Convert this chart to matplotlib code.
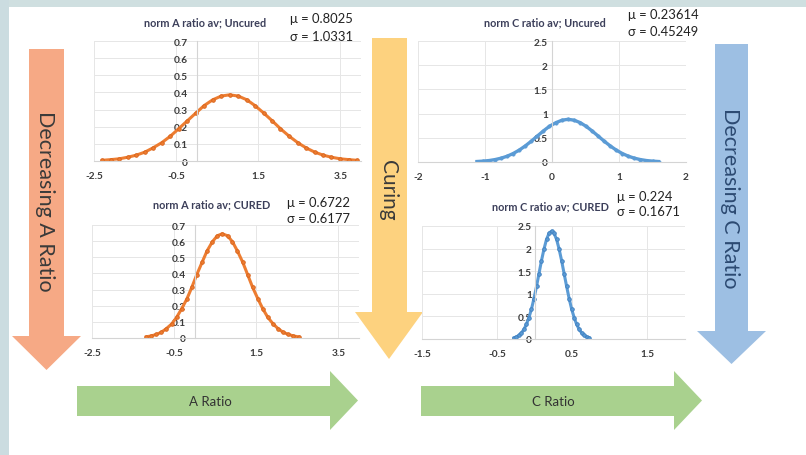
import matplotlib
matplotlib.use("Agg")
import matplotlib.pyplot as plt
from matplotlib.patches import Polygon, Rectangle

plt.rcParams['font.family'] = ['Lato', 'DejaVu Sans']
plt.rcParams['axes.unicode_minus'] = False

# --- data ---
# A ratio, uncured (mu = 0.8025, sigma = 1.0331)
a_unc_x = [-2.30, -2.09, -1.88, -1.68, -1.47, -1.26, -1.06, -0.85, -0.64, -0.44, -0.23,
           -0.02, 0.18, 0.39, 0.60, 0.80, 1.01, 1.22, 1.42, 1.63, 1.84, 2.04, 2.25,
           2.46, 2.66, 2.87, 3.08, 3.28, 3.49, 3.70, 3.90]
a_unc_y = [0.004, 0.008, 0.013, 0.022, 0.034, 0.052, 0.077, 0.107, 0.145, 0.188, 0.234,
           0.280, 0.323, 0.357, 0.379, 0.386, 0.379, 0.357, 0.323, 0.280, 0.234, 0.188,
           0.145, 0.107, 0.077, 0.052, 0.034, 0.022, 0.013, 0.008, 0.004]

# A ratio, cured (mu = 0.6722, sigma = 0.6177)
a_cur_x = [-1.18, -1.06, -0.93, -0.81, -0.69, -0.56, -0.44, -0.32, -0.19, -0.07, 0.05,
           0.18, 0.30, 0.43, 0.55, 0.67, 0.80, 0.92, 1.04, 1.17, 1.29, 1.41, 1.54,
           1.66, 1.78, 1.91, 2.03, 2.15, 2.28, 2.40, 2.53]
a_cur_y = [0.007, 0.013, 0.022, 0.036, 0.058, 0.087, 0.128, 0.180, 0.242, 0.314, 0.392,
           0.469, 0.539, 0.596, 0.633, 0.646, 0.633, 0.596, 0.539, 0.469, 0.392, 0.314,
           0.242, 0.180, 0.128, 0.087, 0.058, 0.036, 0.022, 0.013, 0.007]

# C ratio, uncured (mu = 0.23614, sigma = 0.45249)
c_unc_x = [-1.12, -1.03, -0.94, -0.85, -0.76, -0.67, -0.58, -0.49, -0.40, -0.31, -0.22,
           -0.13, -0.04, 0.06, 0.15, 0.24, 0.33, 0.42, 0.51, 0.60, 0.69, 0.78, 0.87,
           0.96, 1.05, 1.14, 1.23, 1.32, 1.41, 1.50, 1.59]
c_unc_y = [0.010, 0.018, 0.030, 0.050, 0.079, 0.119, 0.175, 0.245, 0.331, 0.429, 0.535,
           0.640, 0.736, 0.814, 0.864, 0.882, 0.864, 0.814, 0.736, 0.640, 0.535, 0.429,
           0.331, 0.245, 0.175, 0.119, 0.079, 0.050, 0.030, 0.018, 0.010]

# C ratio, cured (mu = 0.224, sigma = 0.1671)
c_cur_x = [-0.277, -0.244, -0.210, -0.177, -0.144, -0.110, -0.077, -0.043, -0.010, 0.024,
           0.057, 0.090, 0.124, 0.157, 0.191, 0.224, 0.257, 0.291, 0.324, 0.358, 0.391,
           0.425, 0.458, 0.491, 0.525, 0.558, 0.592, 0.625, 0.659, 0.692, 0.725]
c_cur_y = [0.026, 0.047, 0.081, 0.134, 0.212, 0.323, 0.473, 0.664, 0.896, 1.162, 1.448,
           1.734, 1.994, 2.204, 2.340, 2.387, 2.340, 2.204, 1.994, 1.734, 1.448, 1.162,
           0.896, 0.664, 0.473, 0.323, 0.212, 0.134, 0.081, 0.047, 0.026]

titles = ['norm A ratio av; Uncured', 'norm A ratio av; CURED',
          'norm C ratio av; Uncured', 'norm C ratio av; CURED']
mus = ['0.8025', '0.6722', '0.23614', '0.224']
sigmas = ['1.0331', '0.6177', '0.45249', '0.1671']

a_xticks = [-2.5, -0.5, 1.5, 3.5]
a_yticks = [0, 0.1, 0.2, 0.3, 0.4, 0.5, 0.6, 0.7]
a_ylabels = ['0', '0.1', '0.2', '0.3', '0.4', '0.5', '0.6', '0.7']
c_unc_xticks = [-2, -1, 0, 1, 2]
c_cur_xticks = [-1.5, -0.5, 0.5, 1.5]
c_yticks = [0, 0.5, 1, 1.5, 2, 2.5]
c_ylabels = ['0', '0.5', '1', '1.5', '2', '2.5']

W, H = 806, 456
fig = plt.figure(figsize=(W / 100, H / 100), dpi=100)
fig.patch.set_facecolor('white')

# background layer in pixel coordinates
bg = fig.add_axes([0, 0, 1, 1])
bg.set_xlim(0, W)
bg.set_ylim(H, 0)
bg.axis('off')
bg.add_patch(Rectangle((0, 0), W, 8, color='#cfdfe0', lw=0))
bg.add_patch(Rectangle((0, 0), 9, H, color='#cbdce0', lw=0))


def down_arrow(x0, x1, top, neck, h0, h1, tip, color):
    cx = (h0 + h1) / 2
    pts = [(x0, top), (x1, top), (x1, neck), (h1, neck), (cx, tip), (h0, neck), (x0, neck)]
    bg.add_patch(Polygon(pts, closed=True, color=color, lw=0))


def right_arrow(left, y0, y1, neck, h0, h1, tip, color):
    cy = (h0 + h1) / 2
    pts = [(left, y0), (neck, y0), (neck, h0), (tip, cy), (neck, h1), (neck, y1), (left, y1)]
    bg.add_patch(Polygon(pts, closed=True, color=color, lw=0))


down_arrow(29, 64, 50, 337, 12, 81, 371, '#f6a985')
down_arrow(372, 407, 39, 313, 355, 423, 360, '#fdd27f')
down_arrow(715, 748, 45, 332, 697, 766, 365, '#9dbfe3')
right_arrow(77, 387, 417, 330, 372, 431, 358, '#a9d18e')
right_arrow(421, 387, 417, 674, 372, 431, 702, '#a9d18e')

bg.text(45, 201, 'Decreasing A Ratio', rotation=-90, ha='center', va='center',
        fontsize=15.5, color='#3a3a3a')
bg.text(388, 190, 'Curing', rotation=-90, ha='center', va='center',
        fontsize=15, color='#3a3a3a')
bg.text(730, 198, 'Decreasing C Ratio', rotation=-90, ha='center', va='center',
        fontsize=15.5, color='#2c4a72')
bg.text(210, 402, 'A Ratio', ha='center', va='center', fontsize=9.5, color='#333333')
bg.text(553, 402, 'C Ratio', ha='center', va='center', fontsize=9.5, color='#333333')


def px_axes(l, t, r, b):
    return fig.add_axes([l / W, 1 - b / H, (r - l) / W, (b - t) / H])


def style(ax, xlim, ylim, xticks, yticks, ylabels, ypad):
    ax.set_facecolor('none')
    ax.set_xlim(*xlim)
    ax.set_ylim(*ylim)
    ax.set_xticks(xticks)
    ax.set_xticklabels([('%g' % t) for t in xticks])
    ax.set_yticks(yticks)
    ax.set_yticklabels(ylabels)
    ax.grid(True, color='#e6e6e6', lw=0.7)
    ax.set_axisbelow(True)
    for s in ['top', 'right']:
        ax.spines[s].set_visible(False)
    ax.spines['left'].set_position(('data', 0))
    ax.spines['left'].set_color('#d4d4d4')
    ax.spines['bottom'].set_color('#d4d4d4')
    ax.tick_params(axis='both', length=0, labelsize=7.3, labelcolor='#3c3c3c')
    ax.tick_params(axis='x', pad=7.5)
    ax.tick_params(axis='y', pad=ypad)
    for lab in ax.get_xticklabels() + ax.get_yticklabels():
        lab.set_fontweight('bold')


orange, orange_dk = '#ed7d31', '#d8621a'
blue, blue_dk = '#5b9bd5', '#3f7fbf'

ax1 = px_axes(94, 42, 361, 162)
style(ax1, (-2.5, 4.0), (0, 0.7), a_xticks, a_yticks, a_ylabels, 6.5)
ax1.plot(a_unc_x, a_unc_y, color=orange, lw=2.2, marker='o', ms=2.6,
         mfc=orange, mec=orange_dk, mew=0.6)

ax2 = px_axes(92, 226, 359, 339)
style(ax2, (-2.5, 4.0), (0, 0.7), a_xticks, a_yticks, a_ylabels, 6.5)
ax2.plot(a_cur_x, a_cur_y, color=orange, lw=2.2, marker='o', ms=2.6,
         mfc=orange, mec=orange_dk, mew=0.6)

ax3 = px_axes(418, 42, 686, 163)
style(ax3, (-2, 2), (0, 2.5), c_unc_xticks, c_yticks, c_ylabels, 3)
ax3.plot(c_unc_x, c_unc_y, color=blue, lw=2.4, marker='o', ms=2.4,
         mfc=blue, mec=blue, mew=0.5)

ax4 = px_axes(422, 227, 685, 340)
style(ax4, (-1.5, 2.0), (0, 2.5), c_cur_xticks, c_yticks, c_ylabels, 2)
ax4.plot(c_cur_x, c_cur_y, color=blue, lw=2.2, marker='o', ms=2.6,
         mfc=blue, mec=blue_dk, mew=0.6)

# chart titles and statistics
title_pos = [(205, 23), (212, 205), (545, 23), (550, 207)]
stat_pos = [(290, 19, 37), (287, 203, 219), (628, 15, 32), (617, 197, 212)]
for t, (tx, ty), (sx, my, sy), m, s in zip(titles, title_pos, stat_pos, mus, sigmas):
    bg.text(tx, ty, t, ha='center', va='center', fontsize=7.8,
            fontweight='bold', color='#3c3f5a')
    bg.text(sx, my, '\u03bc = ' + m, ha='left', va='center', fontsize=9.4, color='#222222')
    bg.text(sx, sy, '\u03c3 = ' + s, ha='left', va='center', fontsize=9.4, color='#222222')

bg.set_zorder(0)
for a in (ax1, ax2, ax3, ax4):
    a.set_zorder(1)
fig.savefig('out.png', dpi=100)
